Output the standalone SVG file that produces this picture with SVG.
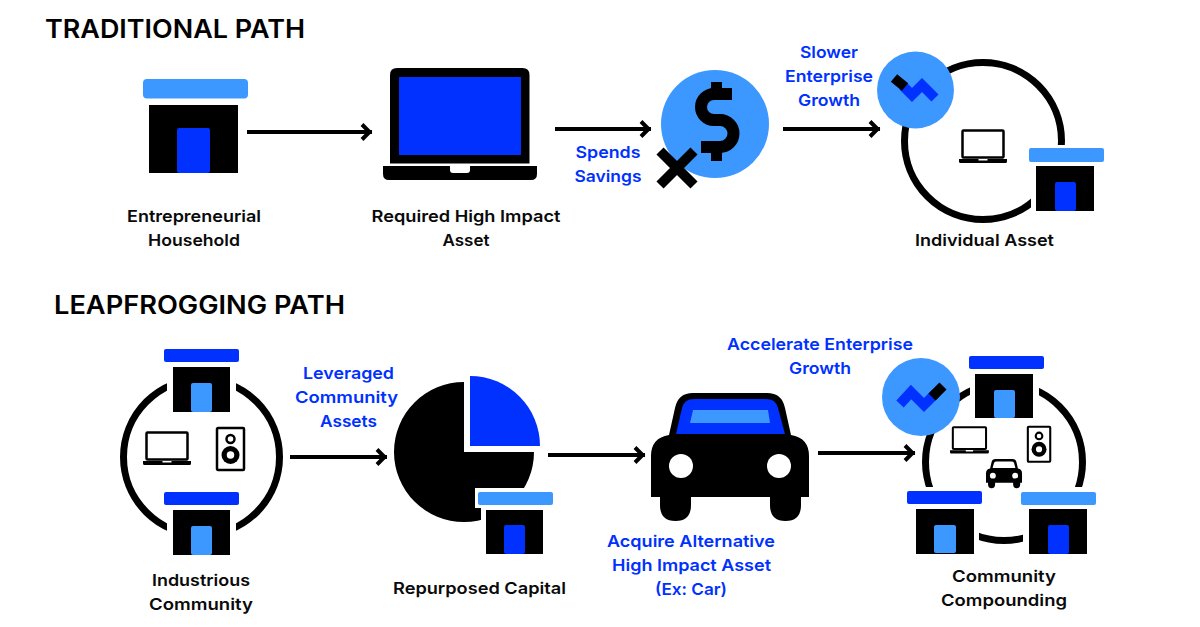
<svg xmlns="http://www.w3.org/2000/svg" xmlns:xlink="http://www.w3.org/1999/xlink" width="1200" height="627" viewBox="0 0 1200 627">
<style>
text{font-family:"Inter","Noto Sans","Liberation Sans",sans-serif;font-weight:600;font-size:16.5px;text-anchor:middle;fill:#0a0a0a}
text.b{fill:#0031ff}
text.t{font-size:26px;text-anchor:start;fill:#000}
.k{fill:#000}.w{fill:#fff}.l{fill:#3c98ff}.d{fill:#0031ff}
.ring{fill:none;stroke:#000;stroke-width:7}
.arrow{fill:none;stroke:#000;stroke-width:4;marker-end:url(#head)}
.o{fill:#fff;stroke:#000;stroke-width:2.500}
</style>
<defs>
<marker id="head" markerUnits="userSpaceOnUse" markerWidth="24" markerHeight="24" refX="15.500" refY="12" orient="auto" overflow="visible">
<path d="M5.500 4.500L13 12L5.500 19.500" fill="none" stroke="#000" stroke-width="4"/>
</marker>
<g id="laptopS">
<rect class="o" x="3.500" y="1.500" width="41" height="27" rx="1"/>
<path class="k" d="M0 30H19.500V31.500H28.500V30H48V32.500Q48 34 46.500 34H1.500Q0 34 0 32.500Z"/>
</g>
<g id="speaker">
<rect class="o" x="1" y="1" width="27" height="42" rx="1"/>
<circle class="o" cx="14.500" cy="12" r="4"/>
<circle class="k" cx="14.500" cy="28" r="9"/>
<circle class="o" cx="14.500" cy="28" r="5"/>
</g>
<path id="carBody" d="M669 435L675 408Q678 393 693 393H767Q782 393 785 408L791 435Q809 438 809 456V497H801V505Q801 521 785.500 521Q770 521 770 505V497H691V505Q691 521 675.500 521Q660 521 660 505V497H651V456Q651 438 669 435Z"/>
</defs>
<rect width="1200" height="627" fill="#fff"/>

<text class="t" x="45" y="38" textLength="260" lengthAdjust="spacingAndGlyphs">TRADITIONAL PATH</text>
<text class="t" x="54" y="314" textLength="291" lengthAdjust="spacingAndGlyphs">LEAPFROGGING PATH</text>

<g id="connectors">
<path class="arrow" d="M247 132H372"/>
<path class="arrow" d="M555 129H651"/>
<path class="arrow" d="M783 129H880"/>
<path class="arrow" d="M290 457H387"/>
<path class="arrow" d="M548 455H645"/>
<path class="arrow" d="M818 453H915"/>
</g>

<g id="household">
<rect class="l" x="143" y="79" width="105" height="19.500" rx="4"/>
<rect class="k" x="149" y="105" width="89" height="68"/>
<rect class="d" x="177" y="128" width="33" height="45" rx="2"/>
<text x="194" y="222" textLength="134" lengthAdjust="spacingAndGlyphs">Entrepreneurial</text>
<text x="194" y="246" textLength="92" lengthAdjust="spacingAndGlyphs">Household</text>
</g>

<g id="required-asset">
<path class="k" d="M390 163.500V75Q390 68 397 68H522.500Q529.500 68 529.500 75V163.500Z"/>
<rect class="d" x="399" y="77" width="122" height="78"/>
<path class="k" d="M383 166H450V170Q450 173 453 173H467Q470 173 470 170V166H537V174Q537 180 531 180H389Q383 180 383 174Z"/>
<text x="466" y="222" textLength="189" lengthAdjust="spacingAndGlyphs">Required High Impact</text>
<text x="466" y="246" textLength="47" lengthAdjust="spacingAndGlyphs">Asset</text>
</g>

<g id="spends-savings">
<circle class="l" cx="715" cy="124" r="54"/>
<path d="M732 94H714a13 13 0 0 0 0 26h6a13.500 13.500 0 0 1 0 27H701" fill="none" stroke="#000" stroke-width="12"/>
<rect class="k" x="711" y="82" width="11" height="14"/>
<rect class="k" x="711" y="146" width="11" height="15"/>
<path d="M660 151L694 185M694 151L660 185" fill="none" stroke="#000" stroke-width="10"/>
<text class="b" x="608" y="158" textLength="65" lengthAdjust="spacingAndGlyphs">Spends</text>
<text class="b" x="608" y="182" textLength="67" lengthAdjust="spacingAndGlyphs">Savings</text>
</g>

<g id="individual-asset">
<circle class="ring" cx="983" cy="141" r="78.500"/>
<rect class="w" x="1025" y="145" width="83" height="20"/>
<rect class="w" x="1031" y="160" width="68" height="56"/>
<use xlink:href="#laptopS" href="#laptopS" x="959" y="129"/>
<rect class="l" x="1029" y="148" width="75" height="14" rx="2"/>
<rect class="k" x="1036" y="166" width="58" height="45"/>
<rect class="d" x="1055" y="182" width="21" height="29" rx="2"/>
<circle class="l" cx="915.500" cy="90" r="38.500"/>
<path d="M903 86L912 95L922 85L935 98" fill="none" stroke="#0031ff" stroke-width="10"/>
<path d="M894 78L905 87" fill="none" stroke="#000" stroke-width="10"/>
<text class="b" x="829" y="58" textLength="58" lengthAdjust="spacingAndGlyphs">Slower</text>
<text class="b" x="829" y="82" textLength="88" lengthAdjust="spacingAndGlyphs">Enterprise</text>
<text class="b" x="829" y="106" textLength="62" lengthAdjust="spacingAndGlyphs">Growth</text>
<text x="984.500" y="246" textLength="139" lengthAdjust="spacingAndGlyphs">Individual Asset</text>
</g>

<g id="industrious-community">
<circle class="ring" cx="201.500" cy="457" r="78"/>
<rect class="w" x="167" y="360" width="69" height="55"/>
<rect class="w" x="167" y="505" width="69" height="55"/>
<rect class="d" x="164" y="349" width="75" height="13" rx="2"/>
<rect class="k" x="173" y="367" width="57" height="45"/>
<rect class="l" x="191" y="383" width="21" height="29" rx="2"/>
<rect class="d" x="164" y="492" width="75" height="13" rx="2"/>
<rect class="k" x="173" y="510" width="57" height="45"/>
<rect class="l" x="191" y="526" width="21" height="29" rx="2"/>
<use xlink:href="#laptopS" href="#laptopS" x="143" y="431"/>
<use xlink:href="#speaker" href="#speaker" x="216" y="427"/>
<text x="201" y="586" textLength="98" lengthAdjust="spacingAndGlyphs">Industrious</text>
<text x="201" y="610" textLength="104" lengthAdjust="spacingAndGlyphs">Community</text>
<text class="b" x="348.500" y="379" textLength="91" lengthAdjust="spacingAndGlyphs">Leveraged</text>
<text class="b" x="346.500" y="403" textLength="103" lengthAdjust="spacingAndGlyphs">Community</text>
<text class="b" x="348.500" y="427" textLength="57" lengthAdjust="spacingAndGlyphs">Assets</text>
</g>

<g id="repurposed-capital">
<path class="k" d="M464 382A70 70 0 1 0 534 452H464Z"/>
<path class="d" d="M470 446V376A70 70 0 0 1 540 446Z"/>
<rect class="w" x="475" y="488" width="81" height="20"/>
<rect class="w" x="481" y="505" width="67" height="54"/>
<rect class="l" x="478" y="492" width="75" height="13" rx="2"/>
<rect class="k" x="486" y="510" width="57" height="44"/>
<rect class="d" x="504" y="525" width="21" height="29" rx="2"/>
<text x="479.500" y="594" textLength="173" lengthAdjust="spacingAndGlyphs">Repurposed Capital</text>
</g>

<g id="alternative-asset">
<use xlink:href="#carBody" href="#carBody" class="k"/>
<path class="d" d="M676 434L682 408Q684 399 694 399H766Q776 399 778 408L785 434Z"/>
<path class="l" d="M693 410H768L770 423H690Z"/>
<circle class="w" cx="681" cy="466" r="12"/>
<circle class="w" cx="779" cy="466" r="12"/>
<text class="b" x="691" y="547" textLength="168" lengthAdjust="spacingAndGlyphs">Acquire Alternative</text>
<text class="b" x="691.500" y="571" textLength="159" lengthAdjust="spacingAndGlyphs">High Impact Asset</text>
<text class="b" x="691" y="595" textLength="72" lengthAdjust="spacingAndGlyphs">(Ex: Car)</text>
</g>

<g id="community-compounding">
<circle class="ring" cx="1004" cy="462" r="78.500"/>
<rect class="w" x="970" y="350" width="69" height="72"/>
<rect class="w" x="903" y="487" width="83" height="22"/>
<rect class="w" x="911" y="505" width="68" height="55"/>
<rect class="w" x="1017" y="487" width="83" height="22"/>
<rect class="w" x="1023" y="505" width="69" height="55"/>
<rect class="d" x="969" y="356" width="75" height="13" rx="2"/>
<rect class="k" x="975" y="374" width="58" height="44"/>
<rect class="l" x="994" y="390" width="21" height="28" rx="2"/>
<rect class="d" x="907" y="491" width="75" height="13" rx="2"/>
<rect class="k" x="916" y="509" width="58" height="45"/>
<rect class="l" x="934" y="525" width="22" height="28" rx="2"/>
<rect class="l" x="1021" y="492" width="75" height="13" rx="2"/>
<rect class="k" x="1029" y="509" width="58" height="45"/>
<rect class="d" x="1048" y="525" width="21" height="29" rx="2"/>
<use xlink:href="#laptopS" href="#laptopS" transform="translate(950 426) scale(.81)"/>
<use xlink:href="#speaker" href="#speaker" transform="translate(1027 426) scale(.83)"/>
<g transform="translate(986 459) scale(.228) translate(-651 -393)">
<use xlink:href="#carBody" href="#carBody" class="k"/>
<path class="w" d="M680 432L686 410Q688 404 697 404H763Q772 404 774 410L780 432Z"/>
<circle class="w" cx="681" cy="466" r="13"/>
<circle class="w" cx="779" cy="466" r="13"/>
</g>
<circle class="l" cx="921" cy="397" r="39"/>
<path d="M900 404L911 392L924 405L936 393" fill="none" stroke="#0031ff" stroke-width="10"/>
<path d="M932 397L943 386" fill="none" stroke="#000" stroke-width="10"/>
<text class="b" x="820" y="350" textLength="186" lengthAdjust="spacingAndGlyphs">Accelerate Enterprise</text>
<text class="b" x="820" y="374" textLength="62" lengthAdjust="spacingAndGlyphs">Growth</text>
<text x="1004" y="582" textLength="104" lengthAdjust="spacingAndGlyphs">Community</text>
<text x="1004" y="606" textLength="126" lengthAdjust="spacingAndGlyphs">Compounding</text>
</g>
</svg>
